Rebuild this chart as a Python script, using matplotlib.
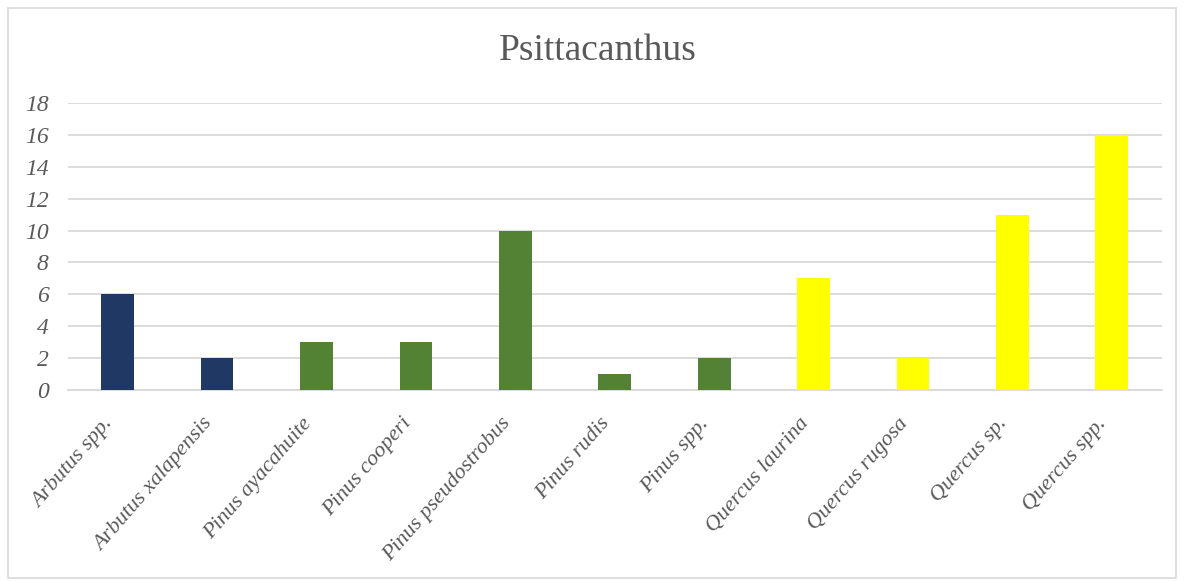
import matplotlib.pyplot as plt
import matplotlib.transforms as mtransforms
from matplotlib.patches import Rectangle

# data
species = ['Arbutus spp.', 'Arbutus xalapensis', 'Pinus ayacahuite', 'Pinus cooperi',
           'Pinus pseudostrobus', 'Pinus rudis', 'Pinus spp.', 'Quercus laurina',
           'Quercus rugosa', 'Quercus sp.', 'Quercus spp.']
counts = [6, 2, 3, 3, 10, 1, 2, 7, 2, 11, 16]
genus_colors = {'Arbutus': '#203864', 'Pinus': '#548235', 'Quercus': '#FFFF00'}
yticks = [0, 2, 4, 6, 8, 10, 12, 14, 16, 18]

plt.rcParams['font.family'] = ['Liberation Serif', 'DejaVu Serif']
txt = '#595959'

fig = plt.figure(figsize=(11.84, 5.81), dpi=100)
ax = fig.add_axes([0.0574, 0.3287, 0.9236, 0.494])

colors = [genus_colors[s.split()[0]] for s in species]
x = range(len(species))
ax.bar(x, counts, width=0.33, color=colors, zorder=3)

ax.set_xlim(-0.5, len(species) - 0.5)
ax.set_ylim(0, 18)
ax.set_yticks(yticks)
ax.set_yticklabels([str(v) for v in yticks], fontsize=17, style='italic', color=txt)
ax.set_xticks(list(x))
ax.set_xticklabels(species, fontsize=16, style='italic', color=txt,
                   rotation=49, ha='right', va='center', rotation_mode='anchor')
ax.tick_params(axis='x', length=0, pad=22)
ax.tick_params(axis='y', length=0, pad=14)
shift = mtransforms.ScaledTranslation(-8 / 100, 0, fig.dpi_scale_trans)
for lab in ax.get_xticklabels():
    lab.set_transform(lab.get_transform() + shift)

ax.grid(axis='y', color='#D9D9D9', linewidth=1.3, zorder=0)
for s in ['top', 'right', 'left']:
    ax.spines[s].set_visible(False)
ax.spines['bottom'].set_color('#D9D9D9')
ax.spines['bottom'].set_linewidth(1.3)

fig.text(0.505, 0.912, 'Psittacanthus', ha='center', va='center', fontsize=27, color=txt)

# chart frame
fig.patches.append(Rectangle((0.007, 0.005), 0.986, 0.981, transform=fig.transFigure,
                             fill=False, edgecolor='#D9D9D9', linewidth=1.2))

fig.savefig('out.png', dpi=100)
